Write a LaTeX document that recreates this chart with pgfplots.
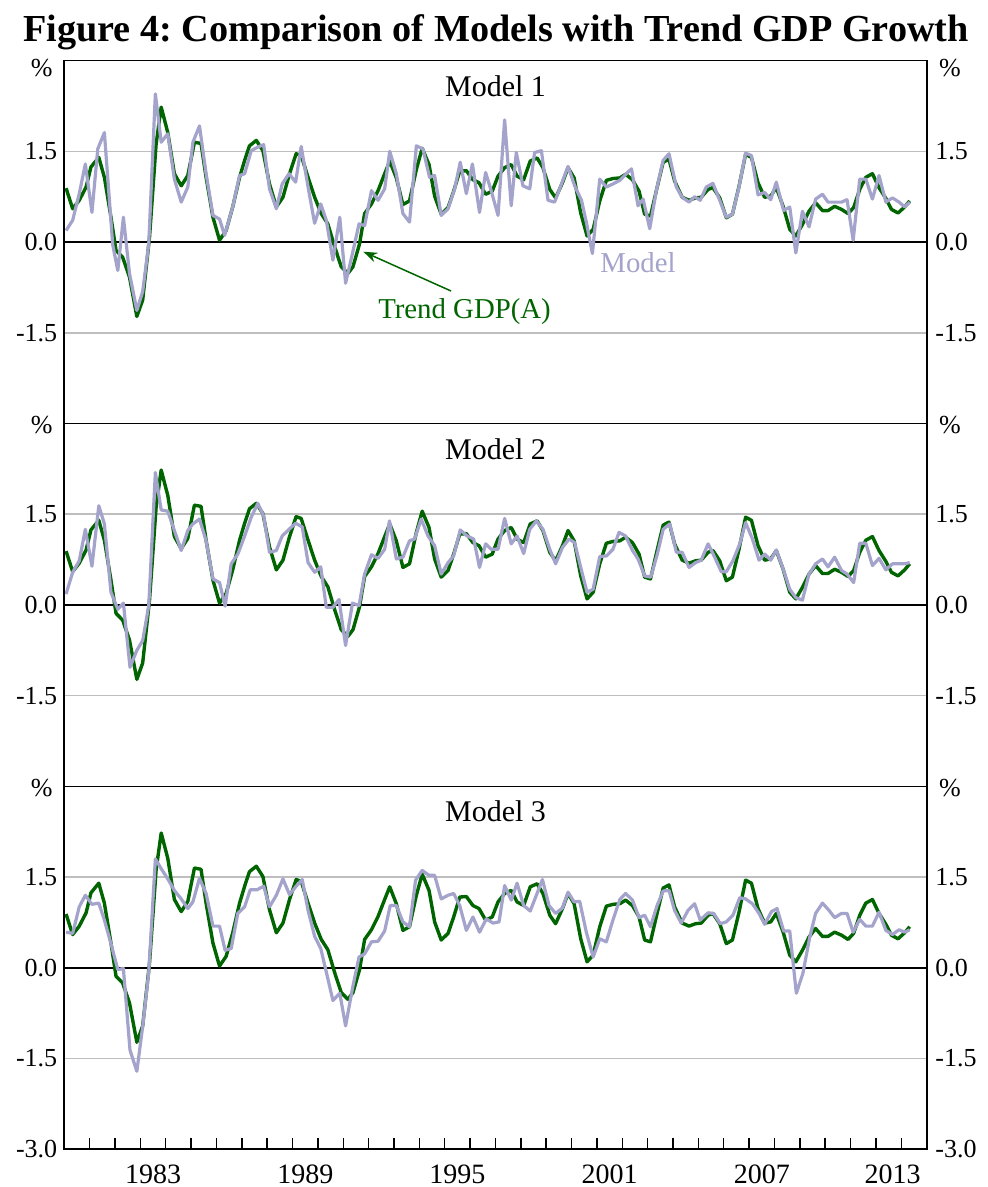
\documentclass[border=0pt]{standalone}
\usepackage{pgfplots}
\pgfplotsset{compat=1.18}
\usepackage{pgfplotstable}
\usepackage{fontspec}
\setmainfont{Liberation Serif}
\usetikzlibrary{arrows.meta}
\definecolor{trendgreen}{RGB}{0,100,0}
\definecolor{modelpurple}{RGB}{163,163,204}
\definecolor{gridgrey}{RGB}{190,190,190}
\frenchspacing

\pgfplotstableread{
x y
1980.07 0.89
1980.33 0.55
1980.59 0.69
1980.86 0.91
1981.05 1.24
1981.36 1.40
1981.58 1.07
1981.84 0.41
1982.04 -0.14
1982.30 -0.25
1982.57 -0.58
1982.86 -1.23
1983.09 -0.96
1983.36 0.08
1983.62 1.62
1983.82 2.23
1984.08 1.81
1984.34 1.13
1984.61 0.93
1984.87 1.10
1985.13 1.65
1985.39 1.63
1985.59 1.07
1985.86 0.41
1986.12 0.03
1986.38 0.19
1986.64 0.58
1986.91 1.07
1987.11 1.35
1987.30 1.59
1987.57 1.68
1987.83 1.51
1988.09 0.96
1988.36 0.58
1988.62 0.74
1988.88 1.13
1989.14 1.46
1989.34 1.43
1989.61 1.07
1989.87 0.74
1990.13 0.47
1990.39 0.30
1990.66 -0.08
1990.92 -0.41
1991.18 -0.52
1991.38 -0.41
1991.64 -0.03
1991.84 0.47
1992.11 0.63
1992.37 0.85
1992.63 1.13
1992.83 1.34
1993.09 1.06
1993.35 0.62
1993.61 0.68
1993.88 1.20
1994.11 1.55
1994.38 1.28
1994.60 0.76
1994.86 0.46
1995.13 0.57
1995.35 0.84
1995.59 1.17
1995.85 1.18
1996.11 1.03
1996.35 0.98
1996.61 0.79
1996.87 0.84
1997.10 1.09
1997.36 1.23
1997.62 1.28
1997.85 1.09
1998.11 1.03
1998.37 1.34
1998.64 1.39
1998.87 1.23
1999.14 0.87
1999.37 0.73
1999.64 0.98
1999.86 1.23
2000.10 1.06
2000.36 0.48
2000.61 0.10
2000.85 0.21
2001.11 0.68
2001.37 1.02
2001.63 1.05
2001.90 1.06
2002.13 1.12
2002.40 1.03
2002.66 0.84
2002.88 0.46
2003.11 0.43
2003.37 0.90
2003.61 1.32
2003.84 1.37
2004.06 1.01
2004.36 0.74
2004.63 0.69
2004.89 0.73
2005.11 0.74
2005.38 0.87
2005.57 0.90
2005.84 0.73
2006.10 0.40
2006.34 0.46
2006.60 0.92
2006.86 1.45
2007.09 1.40
2007.35 0.98
2007.61 0.74
2007.85 0.76
2008.07 0.90
2008.34 0.59
2008.60 0.21
2008.84 0.10
2009.10 0.29
2009.36 0.51
2009.62 0.65
2009.89 0.52
2010.11 0.52
2010.37 0.59
2010.64 0.54
2010.90 0.47
2011.12 0.57
2011.36 0.87
2011.60 1.07
2011.86 1.13
2012.12 0.90
2012.39 0.72
2012.61 0.54
2012.87 0.48
2013.13 0.58
2013.33 0.68
}\trend

\pgfplotstableread{
x y
1980.07 0.19
1980.33 0.36
1980.59 0.80
1980.83 1.29
1981.09 0.49
1981.32 1.54
1981.58 1.81
1981.91 -0.05
1982.11 -0.47
1982.33 0.41
1982.57 -0.52
1982.86 -1.13
1983.09 -0.82
1983.33 -0.03
1983.59 2.45
1983.82 1.65
1984.08 1.79
1984.34 1.04
1984.61 0.66
1984.87 0.91
1985.07 1.65
1985.33 1.92
1985.59 1.13
1985.86 0.44
1986.12 0.38
1986.32 0.11
1986.64 0.58
1986.91 1.10
1987.11 1.13
1987.37 1.51
1987.63 1.57
1987.86 1.61
1988.09 0.88
1988.36 0.55
1988.59 0.96
1988.86 1.13
1989.12 0.99
1989.34 1.58
1989.61 0.91
1989.87 0.31
1990.11 0.63
1990.33 0.36
1990.59 -0.30
1990.86 0.41
1991.09 -0.68
1991.36 -0.19
1991.62 0.30
1991.84 0.27
1992.11 0.85
1992.37 0.69
1992.63 0.88
1992.83 1.50
1993.09 1.13
1993.35 0.47
1993.61 0.33
1993.88 1.59
1994.14 1.54
1994.40 1.07
1994.60 1.10
1994.86 0.44
1995.13 0.55
1995.39 0.88
1995.61 1.32
1995.85 0.80
1996.09 1.29
1996.37 0.49
1996.61 1.15
1996.83 0.85
1997.10 0.44
1997.36 2.02
1997.62 0.60
1997.82 1.48
1998.08 0.93
1998.35 0.88
1998.54 1.48
1998.81 1.51
1999.07 0.69
1999.33 0.66
1999.60 0.96
1999.86 1.25
2000.12 0.93
2000.39 0.69
2000.58 0.33
2000.82 -0.19
2001.11 1.04
2001.37 0.91
2001.63 0.96
2001.90 1.02
2002.16 1.13
2002.36 1.21
2002.62 0.60
2002.82 0.71
2003.08 0.22
2003.34 0.85
2003.61 1.35
2003.84 1.46
2004.13 0.91
2004.36 0.74
2004.63 0.66
2004.85 0.75
2005.07 0.69
2005.31 0.91
2005.57 0.97
2005.84 0.69
2006.10 0.41
2006.34 0.46
2006.60 0.91
2006.86 1.47
2007.09 1.43
2007.35 0.78
2007.61 0.82
2007.85 0.70
2008.07 0.99
2008.36 0.52
2008.60 0.58
2008.84 -0.18
2009.10 0.51
2009.36 0.25
2009.62 0.71
2009.89 0.79
2010.11 0.66
2010.37 0.66
2010.64 0.66
2010.86 0.70
2011.10 0.03
2011.36 1.04
2011.60 1.04
2011.86 0.71
2012.12 1.10
2012.39 0.66
2012.65 0.73
2012.91 0.66
2013.13 0.58
2013.33 0.66
}\modelone

\pgfplotstableread{
x y
1980.07 0.18
1980.33 0.54
1980.59 0.73
1980.83 1.25
1981.09 0.64
1981.36 1.64
1981.58 1.34
1981.84 0.21
1982.11 -0.07
1982.33 0.03
1982.59 -1.03
1982.86 -0.75
1983.09 -0.59
1983.33 -0.01
1983.59 2.19
1983.82 1.57
1984.08 1.55
1984.34 1.23
1984.61 0.90
1984.87 1.23
1985.07 1.34
1985.33 1.42
1985.59 1.06
1985.86 0.43
1986.12 0.37
1986.34 -0.02
1986.58 0.68
1986.84 0.84
1987.11 1.14
1987.37 1.45
1987.63 1.68
1987.86 1.47
1988.09 0.87
1988.36 0.90
1988.59 1.14
1988.86 1.25
1989.12 1.35
1989.38 1.29
1989.61 0.70
1989.87 0.54
1990.11 0.63
1990.33 -0.04
1990.59 -0.04
1990.83 0.09
1991.09 -0.67
1991.36 0.03
1991.62 -0.01
1991.84 0.51
1992.11 0.83
1992.37 0.77
1992.63 0.92
1992.82 1.39
1993.09 0.76
1993.35 0.79
1993.61 1.06
1993.81 1.09
1994.07 1.42
1994.34 1.14
1994.60 0.98
1994.86 0.51
1995.13 0.70
1995.35 0.81
1995.61 1.24
1995.88 1.14
1996.14 1.09
1996.37 0.62
1996.61 1.01
1996.83 0.92
1997.10 0.92
1997.36 1.43
1997.62 1.01
1997.85 1.14
1998.11 0.85
1998.35 1.25
1998.61 1.39
1998.87 1.25
1999.14 0.92
1999.37 0.68
1999.64 0.95
1999.90 1.09
2000.12 1.03
2000.39 0.57
2000.61 0.21
2000.85 0.26
2001.11 0.80
2001.37 0.81
2001.63 0.92
2001.87 1.20
2002.13 1.14
2002.40 0.90
2002.62 0.76
2002.88 0.48
2003.12 0.46
2003.38 0.84
2003.61 1.25
2003.87 1.34
2004.13 0.87
2004.36 0.87
2004.63 0.62
2004.89 0.70
2005.11 0.74
2005.38 1.01
2005.64 0.79
2005.90 0.55
2006.10 0.55
2006.36 0.73
2006.63 1.01
2006.86 1.36
2007.13 1.09
2007.39 0.74
2007.61 0.84
2007.85 0.74
2008.07 0.91
2008.36 0.57
2008.60 0.26
2008.84 0.12
2009.10 0.08
2009.36 0.51
2009.62 0.68
2009.89 0.76
2010.11 0.63
2010.37 0.79
2010.64 0.57
2010.86 0.51
2011.12 0.37
2011.36 1.02
2011.60 1.02
2011.86 0.65
2012.12 0.77
2012.39 0.58
2012.65 0.68
2012.91 0.68
2013.13 0.68
2013.33 0.70
}\modeltwo

\pgfplotstableread{
x y
1980.07 0.59
1980.33 0.57
1980.59 1.01
1980.83 1.20
1981.09 1.05
1981.36 1.07
1981.58 0.79
1981.84 0.40
1982.11 -0.03
1982.33 -0.01
1982.59 -1.36
1982.86 -1.71
1983.09 -0.97
1983.33 -0.07
1983.59 1.80
1983.82 1.64
1984.08 1.47
1984.34 1.28
1984.61 1.14
1984.87 0.98
1985.07 1.09
1985.33 1.48
1985.59 1.23
1985.86 0.69
1986.12 0.69
1986.34 0.29
1986.58 0.32
1986.84 0.90
1987.11 1.01
1987.33 1.29
1987.59 1.29
1987.86 1.35
1988.09 1.01
1988.36 1.20
1988.62 1.47
1988.88 1.21
1989.12 1.34
1989.38 1.46
1989.61 0.95
1989.87 0.52
1990.11 0.32
1990.33 -0.07
1990.59 -0.54
1990.86 -0.42
1991.09 -0.96
1991.36 -0.34
1991.62 0.18
1991.84 0.23
1992.11 0.43
1992.37 0.44
1992.63 0.61
1992.85 1.03
1993.09 1.03
1993.35 0.76
1993.61 0.68
1993.85 1.45
1994.11 1.61
1994.38 1.53
1994.60 1.53
1994.86 1.14
1995.13 1.20
1995.35 1.23
1995.59 1.03
1995.85 0.62
1996.11 0.84
1996.37 0.59
1996.64 0.81
1996.90 0.74
1997.14 0.76
1997.36 1.36
1997.62 1.12
1997.85 1.40
1998.11 1.03
1998.37 0.94
1998.61 1.20
1998.85 1.46
1999.11 1.03
1999.37 0.90
1999.64 0.99
1999.86 1.25
2000.10 1.09
2000.32 1.10
2000.58 0.59
2000.85 0.18
2001.11 0.48
2001.37 0.43
2001.63 0.79
2001.90 1.13
2002.13 1.23
2002.40 1.12
2002.66 0.83
2002.88 0.87
2003.11 0.68
2003.37 1.03
2003.61 1.27
2003.84 1.28
2004.06 0.95
2004.32 0.74
2004.59 0.95
2004.85 1.06
2005.07 0.79
2005.38 0.91
2005.60 0.90
2005.86 0.73
2006.10 0.76
2006.36 0.87
2006.63 1.16
2006.86 1.14
2007.13 1.06
2007.39 0.90
2007.61 0.72
2007.88 0.93
2008.10 0.98
2008.36 0.61
2008.60 0.61
2008.86 -0.42
2009.12 -0.09
2009.39 0.51
2009.62 0.90
2009.89 1.07
2010.15 0.95
2010.37 0.83
2010.64 0.90
2010.86 0.90
2011.10 0.59
2011.36 0.80
2011.60 0.69
2011.86 0.69
2012.12 0.92
2012.39 0.62
2012.65 0.55
2012.91 0.63
2013.13 0.59
2013.33 0.63
}\modelthree

\newcommand{\tickfont}{\fontsize{13}{13}\selectfont}
\pgfplotsset{
  panel/.style={
    scale only axis, width=431.2pt, height=181.45pt,
    anchor=south west,
    xmin=1980, xmax=2014, ymin=-3, ymax=3,
    clip mode=individual,
    axis line style={line width=0.8pt},
    every tick/.style={black, line width=0.75pt},
    major tick length=0pt, minor tick length=5.5pt, tick align=inside,
    xtick=\empty, minor xtick=\empty,
    ytick={-1.5,1.5}, yticklabels={-1.5,1.5},
    extra y ticks={0}, extra y tick labels={0.0},
    extra y tick style={grid=major, major grid style={black, line width=0.8pt}},
    ymajorgrids, major grid style={gridgrey, line width=0.75pt},
    yticklabel style={font=\tickfont},
  },
  rightlab/.style={
    panel, yticklabel pos=right, ymajorgrids=false,
    extra y tick style={grid=none},
    yticklabel style={font=\tickfont, xshift=0.8pt},
  },
  green line/.style={trendgreen, line width=1.7pt, line join=round},
  model line/.style={modelpurple, line width=1.6pt, line join=round},
}

\begin{document}
\begin{tikzpicture}
\path[use as bounding box] (-32.15pt,-18.85pt) rectangle (461.35pt,574.65pt);

\node[font=\bfseries\fontsize{19.1}{19.1}\selectfont, anchor=base] at (215.85pt,553.9pt) {Figure 4: Comparison of Models with Trend GDP Growth};

% Panel 1
\begin{axis}[panel, at={(0pt,362.9pt)}]
\addplot[green line] table {\trend};
\addplot[model line] table {\modelone};
\node[anchor=base, font=\fontsize{15}{15}\selectfont] at (rel axis cs:0.5,1) [yshift=-17.8pt] {Model 1};
\node[font=\tickfont] at (rel axis cs:0,1) [xshift=-11.3pt, yshift=-3.65pt] {\%};
\node[font=\tickfont] at (rel axis cs:1,1) [xshift=11.65pt, yshift=-3.65pt] {\%};
\node[anchor=base, text=trendgreen, font=\fontsize{14.4}{14.4}\selectfont] at (axis cs:1995.78,-1.27) {Trend GDP(A)};
\node[anchor=base, text=modelpurple, font=\fontsize{14.4}{14.4}\selectfont] at (axis cs:2002.62,-0.51) {Model};
\draw[trendgreen, line width=0.75pt, -{Stealth[length=7pt,width=5pt]}] (axis cs:1995.25,-0.81) -- (axis cs:1991.79,-0.16);
\end{axis}
\begin{axis}[rightlab, at={(0pt,362.9pt)}]
\end{axis}

% Panel 2
\begin{axis}[panel, at={(0pt,181.45pt)}]
\addplot[green line] table {\trend};
\addplot[model line] table {\modeltwo};
\node[anchor=base, font=\fontsize{15}{15}\selectfont] at (rel axis cs:0.5,1) [yshift=-17.8pt] {Model 2};
\node[font=\tickfont] at (rel axis cs:0,1) [xshift=-11.3pt, yshift=-0.85pt] {\%};
\node[font=\tickfont] at (rel axis cs:1,1) [xshift=11.65pt, yshift=-0.85pt] {\%};
\end{axis}
\begin{axis}[rightlab, at={(0pt,181.45pt)}]
\end{axis}

% Panel 3
\begin{axis}[panel, at={(0pt,0pt)},
  ytick={-3,-1.5,1.5}, yticklabels={-3.0,-1.5,1.5},
  xtick={1983.5,1989.5,1995.5,2001.5,2007.5,2012.66},
  xticklabels={1983,1989,1995,2001,2007,2013},
  minor xtick={1981,1982,...,2013}, xtick pos=bottom,
  xticklabel style={anchor=base, yshift=-17.25pt, font=\fontsize{14}{14}\selectfont}]
\addplot[green line] table {\trend};
\addplot[model line] table {\modelthree};
\node[anchor=base, font=\fontsize{15}{15}\selectfont] at (rel axis cs:0.5,1) [yshift=-17.8pt] {Model 3};
\node[font=\tickfont] at (rel axis cs:0,1) [xshift=-11.3pt, yshift=-0.85pt] {\%};
\node[font=\tickfont] at (rel axis cs:1,1) [xshift=11.65pt, yshift=-0.85pt] {\%};
\end{axis}
\begin{axis}[rightlab, at={(0pt,0pt)}, ytick={-3,-1.5,1.5}, yticklabels={-3.0,-1.5,1.5}]
\end{axis}
\end{tikzpicture}
\end{document}
